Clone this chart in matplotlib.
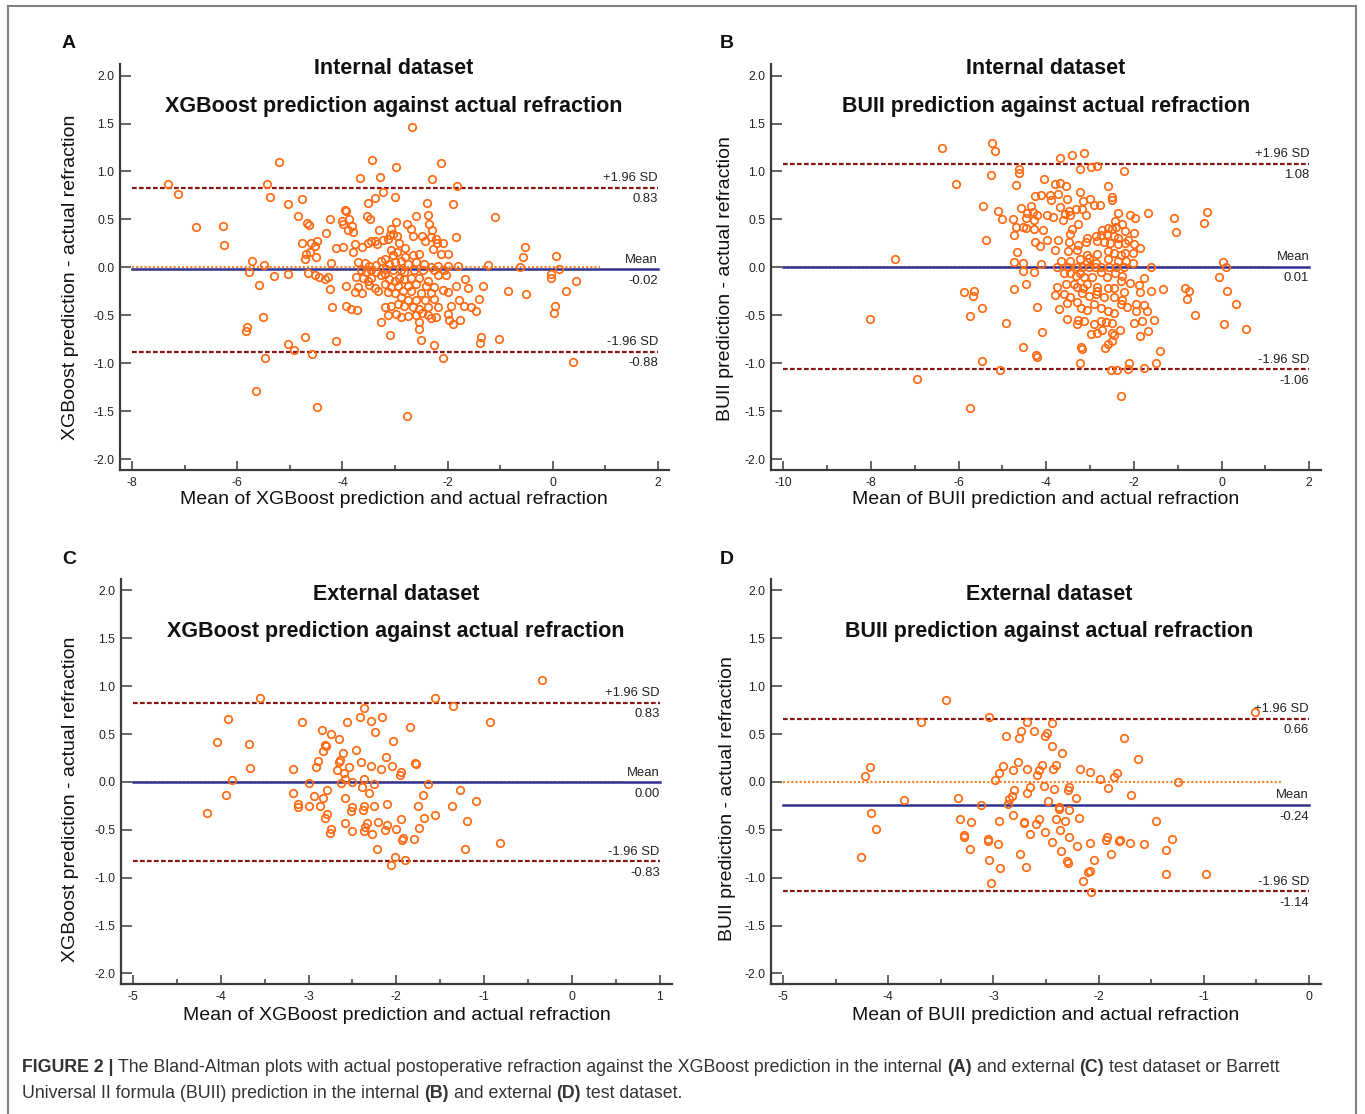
import numpy as np
import matplotlib
matplotlib.use("Agg")
import matplotlib.pyplot as plt
from matplotlib.lines import Line2D
from matplotlib.ticker import FormatStrFormatter

plt.rcParams['font.family'] = ['Liberation Sans', 'DejaVu Sans']
plt.rcParams['axes.unicode_minus'] = False

# ------------------------------------------------------------
# Data: mean of the two methods (x) and
# prediction - actual refraction (y) for each panel
# ------------------------------------------------------------

# A: internal dataset, XGBoost
a_mean = [
    -4.76, -3.23, -3.00, -3.52, -3.38, -2.40, -1.90, -3.96, -3.93, -4.23,
    -3.53, -3.48, -2.60, -2.38, -1.10, -4.67, -4.63, -4.01, -3.98, -3.87,
    -3.82, -3.90, -3.79, -2.99, -2.77, -3.30, -3.08, -3.04, -2.70, -2.66,
    -2.35, -2.29, -4.32, -4.76, -4.60, -4.48, -4.53, -4.61, -4.69, -4.72,
    -4.50, -4.13, -3.99, -3.77, -3.80, -3.63, -3.52, -3.46, -3.39, -3.34,
    -3.23, -3.13, -3.09, -2.96, -2.92, -2.96, -3.08, -3.04, -2.81, -2.49,
    -2.43, -2.32, -2.22, -2.20, -2.09, -2.28, -2.13, -2.00, -1.84, -2.54,
    -2.66, -2.81, -2.89, -2.76, -2.60, -2.44, -2.32, -2.18, -2.00, -1.81,
    -1.23, -3.71, -3.58, -3.49, -3.36, -3.27, -3.20, -3.11, -3.01, -4.22,
    -4.66, -4.53, -4.44, -4.33, -4.28, -3.65, -3.55, -3.46, -3.36, -3.20,
    -3.17, -3.04, -2.89, -2.82, -2.63, -2.47, -2.25, -2.06, -3.74, -3.61,
    -3.52, -3.45, -3.27, -3.11, -3.01, -2.92, -2.82, -2.70, -2.54, -2.38,
    -2.19, -2.03, -1.67, -3.93, -3.71, -3.49, -3.39, -3.20, -3.08, -2.95,
    -2.76, -2.60, -2.41, -2.25, -2.09, -1.84, -1.62, -1.33, -4.23, -3.76,
    -3.63, -3.33, -3.14, -3.01, -2.85, -2.70, -2.51, -2.32, -2.00, -1.78,
    -1.40, -2.89, -2.76, -2.60, -2.43, -2.25, -3.20, -3.08, -2.95, -2.82,
    -2.66, -2.54, -2.38, -2.19, -1.94, -1.68, -1.56, -1.46, -4.20, -3.94,
    -3.84, -3.72, -3.14, -2.98, -2.89, -2.75, -2.60, -2.49, -2.38, -2.32,
    -2.22, -2.00, -1.97, -3.27, -2.54, -1.90, -1.76, -3.09, -2.54, -4.72,
    -4.12, -2.51, -2.26, -1.37, -1.38, -1.02,
    -7.31, -7.12, -6.79, -6.28, -6.25, -5.72, -5.77, -5.59, -5.49, -5.44,
    -5.38, -5.20, -5.31, -5.82, -5.83, -5.51, -5.48, -5.65, -5.04, -5.03,
    -5.03, -4.93, -4.85, -4.57, -4.48, -3.66, -3.44, -3.29, -2.99, -2.77,
    -2.67, -2.30, -2.13, -2.09, -1.82, -0.86, -0.62, -0.57, -0.52, -0.50,
    -0.04, -0.03, 0.02, 0.05, 0.06, 0.11, 0.25, 0.38, 0.44,
]
a_diff = [
    0.71, 0.79, 0.73, 0.67, 0.72, 0.67, 0.66, 0.60, 0.59, 0.51,
    0.54, 0.51, 0.54, 0.55, 0.53, 0.46, 0.44, 0.48, 0.45, 0.51,
    0.43, 0.39, 0.37, 0.47, 0.45, 0.39, 0.40, 0.35, 0.40, 0.33,
    0.45, 0.39, 0.36, 0.25, 0.26, 0.28, 0.22, 0.16, 0.14, 0.09,
    0.11, 0.20, 0.21, 0.24, 0.16, 0.21, 0.25, 0.28, 0.28, 0.24,
    0.29, 0.30, 0.34, 0.33, 0.25, 0.16, 0.18, 0.13, 0.20, 0.33,
    0.28, 0.32, 0.30, 0.25, 0.25, 0.19, 0.14, 0.14, 0.32, 0.14,
    0.13, 0.11, 0.07, 0.04, 0.06, 0.04, 0.00, 0.02, 0.02, 0.02,
    0.03, 0.06, 0.05, 0.02, 0.03, 0.07, 0.09, 0.04, 0.06, 0.05,
    -0.06, -0.08, -0.10, -0.12, -0.10, -0.03, -0.05, -0.03, -0.05, -0.07,
    -0.02, -0.03, -0.03, -0.05, -0.03, -0.03, -0.03, -0.03, -0.10, -0.11,
    -0.14, -0.11, -0.08, -0.12, -0.14, -0.11, -0.12, -0.11, -0.11, -0.14,
    -0.08, -0.08, -0.12, -0.19, -0.20, -0.18, -0.21, -0.17, -0.20, -0.19,
    -0.19, -0.17, -0.19, -0.20, -0.23, -0.19, -0.21, -0.19, -0.22, -0.26,
    -0.27, -0.24, -0.26, -0.27, -0.24, -0.24, -0.27, -0.27, -0.26, -0.34,
    -0.33, -0.31, -0.34, -0.34, -0.34, -0.33, -0.41, -0.40, -0.38, -0.40,
    -0.41, -0.43, -0.41, -0.41, -0.40, -0.40, -0.41, -0.45, -0.41, -0.40,
    -0.43, -0.44, -0.49, -0.48, -0.52, -0.51, -0.49, -0.47, -0.50, -0.53,
    -0.52, -0.48, -0.55, -0.57, -0.57, -0.59, -0.55, -0.70, -0.64, -0.72,
    -0.77, -0.76, -0.81, -0.72, -0.79, -0.74,
    0.87, 0.77, 0.42, 0.43, 0.23, 0.07, -0.05, -0.18, 0.03, 0.87,
    0.73, 1.10, -0.09, -0.62, -0.66, -0.52, -0.94, -1.29, 0.66, -0.07,
    -0.80, -0.86, 0.54, -0.90, -1.45, 0.93, 1.12, 0.94, 1.05, -1.55,
    1.46, 0.92, 1.09, -0.94, 0.85, -0.24, 0.01, 0.11, 0.21, -0.28,
    -0.07, -0.11, -0.47, -0.40, 0.12, -0.02, -0.25, -0.98, -0.14,
]

# B: internal dataset, BUII
b_mean = [
    -5.23, -5.17, -3.68, -3.41, -3.14, -3.23, -2.97, -2.83, -4.63, -4.63,
    -5.27, -2.23, -4.70, -4.04, -3.81, -3.69, -3.56, -2.58, -3.22, -4.25,
    -4.12, -3.91, -3.74, -3.89, -3.52, -3.15, -3.00, -2.91, -2.78, -2.50,
    -2.51, -5.44, -5.10, -5.00, -4.75, -4.57, -4.44, -4.34, -4.31, -4.46,
    -4.27, -4.21, -3.98, -3.84, -3.69, -3.58, -3.48, -3.33, -3.19, -3.45,
    -3.61, -3.09, -2.37, -2.09, -1.97, -1.68, -1.09, -1.03, -2.43, -2.26,
    -2.41, -2.60, -2.49, -2.72, -4.69, -4.54, -4.46, -4.29, -4.08, -4.73,
    -3.27, -3.41, -3.46, -2.75, -2.62, -2.46, -2.37, -2.20, -2.00, -2.14,
    -5.38, -4.25, -4.14, -3.98, -3.74, -3.48, -3.27, -3.08, -3.10, -2.87,
    -2.83, -2.68, -2.54, -2.37, -2.20, -1.99, -1.87, -3.79, -3.51, -3.29,
    -3.06, -2.83, -2.60, -2.45, -2.29, -2.20, -2.03, -4.67, -4.73, -4.52,
    -4.11, -3.66, -3.45, -3.22, -3.08, -3.02, -2.87, -2.58, -2.37, -2.18,
    -2.01, -3.76, -3.51, -3.29, -3.18, -3.02, -2.89, -2.74, -2.56, -2.41,
    -2.22, -1.60, -4.52, -4.27, -3.60, -3.45, -3.33, -3.22, -3.14, -2.95,
    -2.75, -2.62, -2.43, -2.28, -2.29, -2.08, -1.78, -4.73, -4.46, -3.75,
    -3.54, -3.37, -3.29, -3.15, -3.06, -2.85, -2.83, -2.60, -2.46, -2.23,
    -1.88, -1.85, -1.60, -1.34, -3.79, -3.60, -3.45, -3.18, -3.02, -2.87,
    -2.68, -2.45, -2.26, -4.21, -3.71, -3.52, -3.29, -3.20, -3.06, -2.91,
    -2.75, -2.60, -2.45, -2.29, -2.16, -1.95, -1.78, -1.95, -1.70, -3.52,
    -3.29, -3.28, -3.14, -2.91, -2.75, -2.64, -2.49, -2.31, -1.99, -1.82,
    -1.53, -4.92, -4.10, -2.97, -2.83, -2.72, -2.51, -2.45, -1.87, -1.68,
    -2.49, -2.60, -2.66, -3.20, -3.18, -4.54, -4.23, -4.21, -1.41, -3.22,
    -2.10, -1.49, -5.46, -5.06, -2.52, -2.39, -2.14, -1.76,
    -6.38, -6.07, -7.45, -8.01, -6.95, -5.87, -5.64, -5.66, -5.75, -5.73,
    -5.46, -0.33, -0.39, -0.84, -0.74, -0.79, -0.60, -0.05, 0.03, 0.11,
    0.12, 0.32, 0.06, 0.56, -2.29,
]
b_diff = [
    1.30, 1.21, 1.14, 1.17, 1.19, 1.03, 1.05, 1.06, 1.03, 0.98,
    0.96, 1.00, 0.86, 0.92, 0.87, 0.88, 0.85, 0.85, 0.79, 0.74,
    0.76, 0.75, 0.77, 0.70, 0.71, 0.69, 0.71, 0.65, 0.65, 0.73,
    0.70, 0.64, 0.59, 0.50, 0.50, 0.62, 0.57, 0.64, 0.58, 0.52,
    0.49, 0.55, 0.55, 0.53, 0.63, 0.56, 0.59, 0.61, 0.61, 0.55,
    0.49, 0.55, 0.57, 0.55, 0.52, 0.57, 0.52, 0.37, 0.48, 0.45,
    0.42, 0.41, 0.40, 0.39, 0.42, 0.42, 0.41, 0.40, 0.39, 0.34,
    0.45, 0.40, 0.35, 0.34, 0.35, 0.33, 0.31, 0.38, 0.36, 0.29,
    0.29, 0.27, 0.22, 0.29, 0.29, 0.27, 0.23, 0.31, 0.27, 0.33,
    0.28, 0.27, 0.26, 0.24, 0.26, 0.24, 0.20, 0.18, 0.17, 0.18,
    0.13, 0.14, 0.17, 0.15, 0.13, 0.15, 0.15, 0.16, 0.06, 0.05,
    0.04, 0.07, 0.07, 0.09, 0.06, 0.10, 0.05, 0.09, 0.07, 0.07,
    0.05, 0.01, 0.01, 0.01, 0.00, 0.01, 0.01, 0.01, 0.01, 0.01,
    0.01, 0.01, -0.04, -0.05, -0.06, -0.06, -0.09, -0.06, -0.10, -0.10,
    -0.05, -0.10, -0.06, -0.09, -0.14, -0.16, -0.11, -0.22, -0.17, -0.20,
    -0.17, -0.17, -0.20, -0.21, -0.17, -0.20, -0.24, -0.21, -0.21, -0.26,
    -0.18, -0.26, -0.24, -0.22, -0.29, -0.28, -0.31, -0.27, -0.30, -0.28,
    -0.31, -0.31, -0.34, -0.41, -0.43, -0.37, -0.36, -0.42, -0.44, -0.38,
    -0.42, -0.45, -0.47, -0.38, -0.41, -0.38, -0.39, -0.45, -0.45, -0.54,
    -0.59, -0.55, -0.56, -0.59, -0.56, -0.57, -0.58, -0.65, -0.58, -0.56,
    -0.55, -0.58, -0.67, -0.69, -0.68, -0.65, -0.68, -0.70, -0.71, -0.66,
    -0.77, -0.80, -0.84, -0.83, -0.85, -0.83, -0.91, -0.93, -0.87, -0.99,
    -1.00, -0.99, -0.97, -1.07, -1.07, -1.07, -1.06, -1.05,
    1.25, 0.87, 0.09, -0.54, -1.16, -0.26, -0.25, -0.30, -0.51, -1.46,
    -0.42, 0.58, 0.46, -0.21, -0.24, -0.33, -0.49, -0.10, 0.06, 0.00,
    -0.25, -0.38, -0.59, -0.64, -1.34,
]

# C: external dataset, XGBoost
c_mean = [
    -3.55, -3.92, -4.04, -3.68, -3.67, -3.87, -3.94, -4.16, -3.07, -3.18,
    -3.18, -3.00, -2.94, -3.12, -3.12, -3.00, -2.87, -2.92, -2.89, -2.85,
    -2.84, -2.81, -2.80, -2.75, -2.79, -2.84, -2.79, -2.81, -2.74, -2.76,
    -2.68, -2.65, -2.65, -2.63, -2.64, -2.61, -2.60, -2.59, -2.58, -2.58,
    -2.56, -2.54, -2.52, -2.51, -2.50, -2.50, -2.46, -2.41, -2.37, -2.40,
    -2.39, -2.38, -2.37, -2.37, -2.36, -2.37, -2.34, -2.31, -2.29, -2.29,
    -2.28, -2.26, -2.25, -2.24, -2.22, -2.21, -2.18, -2.16, -2.13, -2.11,
    -2.11, -2.12, -2.05, -2.04, -2.06, -2.01, -2.00, -1.96, -1.95, -1.95,
    -1.94, -1.92, -1.90, -1.84, -1.80, -1.79, -1.78, -1.75, -1.74, -1.70,
    -1.69, -1.64, -1.56, -1.56, -1.35, -1.37, -1.28, -1.22, -1.20, -1.09,
    -0.93, -0.82, -0.34,
]
c_diff = [
    0.88, 0.66, 0.42, 0.40, 0.15, 0.02, -0.14, -0.32, 0.63, 0.14,
    -0.11, -0.01, -0.15, -0.23, -0.26, -0.25, -0.25, 0.16, 0.22, 0.54,
    0.32, 0.39, 0.38, 0.50, -0.08, -0.17, -0.33, -0.38, -0.49, -0.53,
    0.12, 0.45, 0.21, -0.01, 0.23, 0.30, 0.09, 0.03, -0.17, -0.43,
    0.63, 0.16, -0.30, -0.26, 0.00, -0.51, 0.33, 0.68, 0.77, 0.21,
    -0.05, -0.29, -0.25, 0.03, -0.47, -0.51, -0.43, -0.11, 0.64, 0.17,
    -0.54, -0.02, -0.25, 0.52, -0.70, -0.42, 0.14, 0.68, -0.50, -0.23,
    -0.45, 0.26, 0.17, 0.43, -0.87, -0.78, -0.49, 0.07, 0.10, -0.39,
    -0.61, -0.58, -0.81, 0.57, -0.60, 0.20, 0.19, -0.25, -0.48, -0.14,
    -0.38, -0.02, 0.88, -0.35, 0.79, -0.25, -0.08, -0.70, -0.41, -0.20,
    0.63, -0.64, 1.07,
]

# D: external dataset, BUII
d_mean = [
    -4.26, -4.22, -4.17, -4.16, -4.12, -3.85, -3.69, -3.45, -3.34, -3.32,
    -3.28, -3.28, -3.22, -3.21, -3.12, -3.05, -3.05, -3.04, -3.04, -3.02,
    -2.99, -2.96, -2.95, -2.95, -2.94, -2.91, -2.88, -2.86, -2.85, -2.82,
    -2.81, -2.81, -2.80, -2.77, -2.76, -2.75, -2.74, -2.71, -2.71, -2.69,
    -2.68, -2.68, -2.68, -2.65, -2.65, -2.61, -2.60, -2.59, -2.57, -2.57,
    -2.54, -2.52, -2.51, -2.51, -2.49, -2.48, -2.44, -2.44, -2.44, -2.43,
    -2.42, -2.41, -2.41, -2.38, -2.38, -2.37, -2.36, -2.35, -2.32, -2.30,
    -2.29, -2.29, -2.28, -2.28, -2.28, -2.22, -2.21, -2.19, -2.18, -2.15,
    -2.10, -2.08, -2.08, -2.08, -2.07, -2.04, -1.99, -1.93, -1.92, -1.91,
    -1.88, -1.85, -1.83, -1.81, -1.80, -1.76, -1.70, -1.69, -1.63, -1.57,
    -1.45, -1.36, -1.36, -1.30, -1.25, -0.98, -0.51,
]
d_diff = [
    -0.78, 0.06, 0.16, -0.32, -0.49, -0.19, 0.63, 0.86, -0.17, -0.39,
    -0.55, -0.57, -0.70, -0.42, -0.24, -0.60, -0.62, 0.68, -0.82, -1.05,
    0.02, -0.65, 0.09, -0.41, -0.90, 0.17, 0.48, -0.23, -0.18, -0.15,
    -0.35, 0.12, -0.08, 0.21, 0.46, -0.75, 0.53, -0.42, -0.43, -0.89,
    0.14, 0.63, -0.11, -0.05, -0.54, 0.53, -0.44, 0.07, -0.39, 0.12,
    0.18, -0.04, -0.52, 0.48, 0.51, -0.20, -0.63, 0.38, 0.62, 0.14,
    -0.07, -0.39, 0.18, -0.26, -0.28, -0.50, -0.72, 0.30, -0.41, -0.83,
    -0.85, -0.08, -0.05, -0.29, -0.57, -0.17, -0.67, -0.38, 0.14, -1.03,
    -0.94, -0.93, 0.10, -0.64, -1.15, -0.82, 0.03, -0.61, -0.57, -0.06,
    -0.75, 0.05, 0.09, -0.62, -0.61, 0.46, -0.64, -0.14, 0.24, -0.65,
    -0.41, -0.71, -0.96, -0.60, 0.00, -0.96, 0.73,
]

# limits of agreement (upper, mean, lower)
a_limits = [0.83, -0.02, -0.88]
b_limits = [1.08, 0.01, -1.06]
c_limits = [0.83, 0.00, -0.83]
d_limits = [0.66, -0.24, -1.14]

# where the orange dotted zero line stops
a_zero_end = 0.9
b_zero_end = 1.05
c_zero_end = 0.6
d_zero_end = -0.27

titles_top = ["Internal dataset", "Internal dataset", "External dataset", "External dataset"]
titles_sub = ["XGBoost prediction against actual refraction",
              "BUII prediction against actual refraction",
              "XGBoost prediction against actual refraction",
              "BUII prediction against actual refraction"]
xlabels = ["Mean of XGBoost prediction and actual refraction",
           "Mean of BUII prediction and actual refraction",
           "Mean of XGBoost prediction and actual refraction",
           "Mean of BUII prediction and actual refraction"]
ylabels = ["XGBoost prediction - actual refraction",
           "BUII prediction - actual refraction",
           "XGBoost prediction - actual refraction",
           "BUII prediction - actual refraction"]
letters = ["A", "B", "C", "D"]

assert len(a_mean) == len(a_diff)
assert len(b_mean) == len(b_diff)
assert len(c_mean) == len(c_diff)
assert len(d_mean) == len(d_diff)

W, H = 1365, 1114
ORANGE = '#FF6A13'
DARKRED = '#8B1414'
NAVY = '#2E3192'
SPINE = '#3a3a3a'


def fx(px):
    return px / W


def fy(py):
    return 1 - py / H


fig = plt.figure(figsize=(W / 100, H / 100), dpi=100)

# axes boxes in pixels: left, top, right, bottom
boxes = [(120, 64, 669, 470), (771, 64, 1321, 470),
         (121, 579, 672, 984), (771, 579, 1321, 984)]
xlims = [(-8.23, 2.21), (-10.28, 2.27), (-5.137, 1.14), (-5.115, 0.114)]
xmajors = [np.arange(-8, 2.1, 2), np.arange(-10, 2.1, 2),
           np.arange(-5, 1.1, 1), np.arange(-5, 0.1, 1)]
xminors = [np.arange(-8, 2.1, 1), np.arange(-10, 2.1, 1),
           np.arange(-5, 1.1, 0.5), np.arange(-5, 0.1, 0.5)]
means = [a_mean, b_mean, c_mean, d_mean]
diffs = [a_diff, b_diff, c_diff, d_diff]
limits = [a_limits, b_limits, c_limits, d_limits]
zero_ends = [a_zero_end, b_zero_end, c_zero_end, d_zero_end]

# title / label centres in pixels
title_x = [394, 1046, 396, 1049]
title_y = [(68, 107), (68, 107), (595, 632), (595, 632)]
xlabel_pos = [(394, 499), (1046, 499), (397, 1015), (1046, 1015)]
ylabel_pos = [(71, 277), (726, 279), (71, 799), (727, 799)]
letter_pos = [(69, 43), (727, 43), (69, 560), (727, 560)]

for i in range(4):
    l, t, r, b = boxes[i]
    ax = fig.add_axes([fx(l), fy(b), (r - l) / W, (b - t) / H])

    ax.set_xlim(*xlims[i])
    ax.set_ylim(-2.11, 2.12)
    for side in ['top', 'right']:
        ax.spines[side].set_visible(False)
    for side in ['left', 'bottom']:
        ax.spines[side].set_color(SPINE)
        ax.spines[side].set_linewidth(1.6)

    ax.set_yticks(np.arange(-2, 2.01, 0.5))
    ax.yaxis.set_major_formatter(FormatStrFormatter('%.1f'))
    ax.set_xticks(xmajors[i])
    ax.set_xticks(xminors[i], minor=True)
    ax.xaxis.set_major_formatter(FormatStrFormatter('%g'))
    ax.tick_params(axis='y', direction='in', length=8, width=1.1,
                   color=SPINE, labelsize=8.8, pad=4, labelcolor='#222222')
    ax.tick_params(axis='x', which='major', direction='in', length=6.5,
                   width=1.1, color=SPINE, labelsize=8.8, pad=5,
                   labelcolor='#222222')
    ax.tick_params(axis='x', which='minor', direction='in', length=3.5,
                   width=1.1, color=SPINE)

    x0, x1 = xmajors[i][0], xmajors[i][-1]
    upper, mean, lower = limits[i]

    # zero reference, mean and +-1.96 SD lines
    ax.plot([x0, zero_ends[i]], [0, 0], color='#FF7F27', lw=1.5,
            linestyle=(0, (1, 1)), zorder=2)
    ax.plot([x0, x1], [mean, mean], color=NAVY, lw=1.8, zorder=3)
    ax.plot([x0, x1], [upper, upper], color=DARKRED, lw=1.6,
            linestyle=(0, (2.1, 1.05)), zorder=3)
    ax.plot([x0, x1], [lower, lower], color=DARKRED, lw=1.6,
            linestyle=(0, (2.1, 1.05)), zorder=3)

    ax.plot(means[i], diffs[i], 'o', mfc='none', mec=ORANGE, ms=5.4,
            mew=1.25, zorder=4, clip_on=False)

    for name, val in [("+1.96 SD", upper), ("Mean", mean), ("-1.96 SD", lower)]:
        ax.annotate(name, xy=(x1, val), xytext=(0, 2.5), textcoords='offset points',
                    ha='right', va='bottom', fontsize=9.4, color='#222222')
        ax.annotate(f"{val:.2f}", xy=(x1, val), xytext=(0, -4),
                    textcoords='offset points', ha='right', va='top',
                    fontsize=9.4, color='#222222')

    fig.text(fx(title_x[i]), fy(title_y[i][0]), titles_top[i], ha='center',
             va='center', fontsize=15.5, fontweight='bold', color='#111111')
    fig.text(fx(title_x[i]), fy(title_y[i][1]), titles_sub[i], ha='center',
             va='center', fontsize=15.5, fontweight='bold', color='#111111')
    fig.text(fx(xlabel_pos[i][0]), fy(xlabel_pos[i][1]), xlabels[i],
             ha='center', va='center', fontsize=14, color='#111111')
    fig.text(fx(ylabel_pos[i][0]), fy(ylabel_pos[i][1]), ylabels[i],
             ha='center', va='center', rotation=90, fontsize=14,
             color='#111111')
    fig.text(fx(letter_pos[i][0]), fy(letter_pos[i][1]), letters[i],
             ha='center', va='center', fontsize=14, fontweight='bold',
             color='#111111')

# outer frame (left, top, right)
frame_kw = dict(color='#808080', lw=1.5, transform=fig.transFigure)
fig.add_artist(Line2D([fx(8), fx(8)], [0, fy(6)], **frame_kw))
fig.add_artist(Line2D([fx(8), fx(1356)], [fy(6), fy(6)], **frame_kw))
fig.add_artist(Line2D([fx(1356), fx(1356)], [fy(6), 0], **frame_kw))

# caption, drawn piece by piece so the bold parts sit inline
caption_lines = [
    [("FIGURE 2 |", True),
     ("The Bland-Altman plots with actual postoperative refraction against the "
      "XGBoost prediction in the internal", False),
     ("(A)", True), ("and external", False), ("(C)", True),
     ("test dataset or Barrett", False)],
    [("Universal II formula (BUII) prediction in the internal", False),
     ("(B)", True), ("and external", False), ("(D)", True),
     ("test dataset.", False)],
]
caption_y = [1068, 1093]
cap_size = 12.8
renderer = fig.canvas.get_renderer()
probe1 = fig.text(0, 0, "x x", fontsize=cap_size)
probe2 = fig.text(0, 0, "xx", fontsize=cap_size)
space_px = (probe1.get_window_extent(renderer).width
            - probe2.get_window_extent(renderer).width)
probe1.remove()
probe2.remove()

for line, ypix in zip(caption_lines, caption_y):
    xpix = 22
    for text, bold in line:
        t = fig.text(fx(xpix), fy(ypix), text, ha='left', va='center',
                     fontsize=cap_size, color='#333333',
                     fontweight='bold' if bold else 'normal')
        xpix += t.get_window_extent(renderer).width + space_px

fig.savefig("out.png", dpi=100)
